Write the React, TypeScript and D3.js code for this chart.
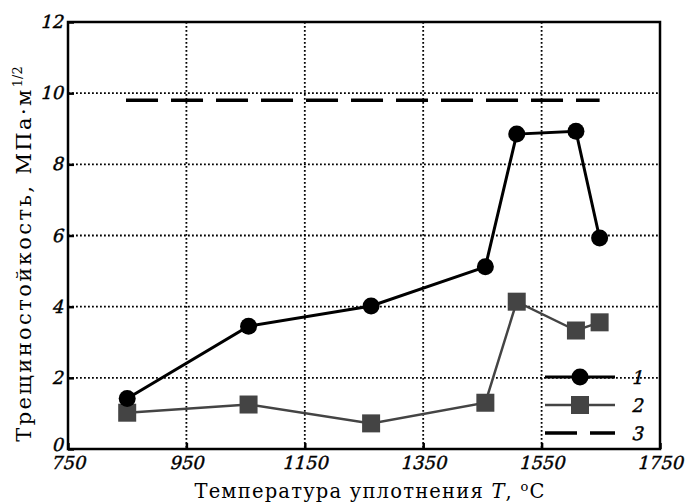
import React, { useEffect, useRef } from 'react';
import * as d3 from 'd3';

// temperature of compaction, °C
const temps = [850, 1055, 1262, 1455, 1508, 1608, 1648];
// series 1 (circles)
const toughness1 = [1.42, 3.45, 4.02, 5.12, 8.85, 8.93, 5.93];
// series 2 (squares)
const toughness2 = [1.02, 1.25, 0.72, 1.3, 4.14, 3.33, 3.56];
// series 3 (dashed reference level)
const refTemps = [848, 1648];
const refLevel = [9.8, 9.8];

const xTicks = [750, 950, 1150, 1350, 1550, 1750];
const yTicks = [0, 2, 4, 6, 8, 10, 12];
const legendLabels = ['1', '2', '3'];

const W = 689;
const H = 504;
const margin = { top: 22, right: 29, bottom: 55, left: 68 };
const tickFont = 'DejaVu Serif';
const slant = 'skewX(-14)'; // fake italic

const App: React.FC = () => {
	const ref = useRef<SVGSVGElement>(null);

	useEffect(() => {
		if (!ref.current) return;
		document.body.style.margin = '0';
		const svg = d3.select(ref.current);
		svg.selectAll('*').remove();

		const width = W - margin.left - margin.right;
		const height = H - margin.top - margin.bottom;

		const x = d3.scaleLinear().domain([750, 1750]).range([0, width]);
		const y = d3.scaleLinear().domain([0, 12]).range([height, 0]);

		const g = svg
			.append('g')
			.attr('transform', `translate(${margin.left},${margin.top})`);

		// grid
		g.selectAll('.vgrid')
			.data(xTicks.slice(1, -1))
			.enter()
			.append('line')
			.attr('x1', (d) => x(d))
			.attr('x2', (d) => x(d))
			.attr('y1', 0)
			.attr('y2', height)
			.attr('stroke', '#000')
			.attr('stroke-width', 1.8)
			.attr('stroke-dasharray', '1.8,2.2');
		g.selectAll('.hgrid')
			.data(yTicks.slice(1, -1))
			.enter()
			.append('line')
			.attr('x1', 0)
			.attr('x2', width)
			.attr('y1', (d) => y(d))
			.attr('y2', (d) => y(d))
			.attr('stroke', '#000')
			.attr('stroke-width', 1.8)
			.attr('stroke-dasharray', '1.8,2.2');

		// axes (inward ticks)
		const xAxis = d3.axisBottom(x).tickValues(xTicks).tickSize(-6).tickFormat(() => '');
		const yAxis = d3.axisLeft(y).tickValues(yTicks).tickSize(-6).tickFormat(() => '');
		const gx = g.append('g').attr('transform', `translate(0,${height})`).call(xAxis);
		const gy = g.append('g').call(yAxis);
		[gx, gy].forEach((a) => {
			a.select('.domain').remove();
			a.selectAll('line').attr('stroke', '#000').attr('stroke-width', 2.5);
		});

		// tick labels
		g.selectAll('.xlab')
			.data(xTicks)
			.enter()
			.append('g')
			.attr('transform', (d) => `translate(${x(d)},${height + 20})`)
			.append('text')
			.attr('transform', slant)
			.attr('text-anchor', 'middle')
			.attr('font-family', tickFont)
			.attr('font-size', 18)
			.attr('stroke', '#000')
			.attr('stroke-width', 0.45)
			.text((d) => d);
		g.selectAll('.ylab')
			.data(yTicks)
			.enter()
			.append('g')
			.attr('transform', (d) => `translate(-5,${y(d) + (d === 0 ? 2 : 6)})`)
			.append('text')
			.attr('transform', slant)
			.attr('text-anchor', 'end')
			.attr('font-family', tickFont)
			.attr('font-size', 18)
			.attr('stroke', '#000')
			.attr('stroke-width', 0.45)
			.text((d) => d);

		// frame
		g.append('rect')
			.attr('width', width)
			.attr('height', height)
			.attr('fill', 'none')
			.attr('stroke', '#000')
			.attr('stroke-width', 2.5);

		// series 3: dashed level
		const line = d3
			.line<[number, number]>()
			.x((d) => x(d[0]))
			.y((d) => y(d[1]));
		g.append('path')
			.attr('d', line(d3.zip(refTemps, refLevel) as [number, number][]))
			.attr('fill', 'none')
			.attr('stroke', '#000')
			.attr('stroke-width', 3.5)
			.attr('stroke-dasharray', '32,13');

		// series 2: squares
		const s2 = d3.zip(temps, toughness2) as [number, number][];
		g.append('path')
			.attr('d', line(s2))
			.attr('fill', 'none')
			.attr('stroke', '#444')
			.attr('stroke-width', 2.5);
		g.selectAll('.sq')
			.data(s2)
			.enter()
			.append('rect')
			.attr('x', (d) => x(d[0]) - 9)
			.attr('y', (d) => y(d[1]) - 9)
			.attr('width', 18)
			.attr('height', 18)
			.attr('fill', '#444');

		// series 1: circles
		const s1 = d3.zip(temps, toughness1) as [number, number][];
		g.append('path')
			.attr('d', line(s1))
			.attr('fill', 'none')
			.attr('stroke', '#000')
			.attr('stroke-width', 3);
		g.selectAll('.ci')
			.data(s1)
			.enter()
			.append('circle')
			.attr('cx', (d) => x(d[0]))
			.attr('cy', (d) => y(d[1]))
			.attr('r', 8.5)
			.attr('fill', '#000');

		// legend
		const lg = svg.append('g').attr('transform', 'translate(545,377)');
		const items = lg
			.selectAll('g')
			.data(legendLabels)
			.enter()
			.append('g')
			.attr('transform', (d, i) => `translate(0,${i * 28})`);
		items
			.append('line')
			.attr('x1', 0)
			.attr('x2', 70)
			.attr('stroke', (d, i) => (i === 1 ? '#444' : '#000'))
			.attr('stroke-width', (d, i) => (i === 0 ? 3 : i === 1 ? 2.5 : 3.5))
			.attr('stroke-dasharray', (d, i) => (i === 2 ? '32,13' : null));
		items
			.filter((d, i) => i === 0)
			.append('circle')
			.attr('cx', 35)
			.attr('r', 8.5)
			.attr('fill', '#000');
		items
			.filter((d, i) => i === 1)
			.append('rect')
			.attr('x', 26)
			.attr('y', -9)
			.attr('width', 18)
			.attr('height', 18)
			.attr('fill', '#444');
		items
			.append('g')
			.attr('transform', 'translate(86,7)')
			.append('text')
			.attr('transform', slant)
			.attr('font-family', tickFont)
			.attr('font-size', 18.5)
			.attr('stroke', '#000')
			.attr('stroke-width', 0.45)
			.text((d) => d);

		// axis titles
		const xt = svg
			.append('text')
			.attr('x', margin.left + width / 2 + 6)
			.attr('y', 498)
			.attr('text-anchor', 'middle')
			.attr('font-family', 'DejaVu Serif')
			.attr('font-size', 19.5)
			.attr('letter-spacing', 1.2);
		xt.append('tspan').text('Температура уплотнения ');
		xt.append('tspan').attr('font-style', 'italic').text('T');
		xt.append('tspan').text(', ');
		xt.append('tspan').attr('font-size', 13).attr('dy', -7).text('o');
		xt.append('tspan').attr('dy', 7).text('C');

		const yt = svg
			.append('text')
			.attr('transform', `translate(31,${254}) rotate(-90)`)
			.attr('text-anchor', 'middle')
			.attr('font-family', 'DejaVu Serif')
			.attr('font-size', 21)
			.attr('letter-spacing', 2.4);
		yt.append('tspan').text('Трещиностойкость, МПа·м');
		yt.append('tspan').attr('font-size', 13).attr('dy', -9).attr('letter-spacing', 0).text('1/2');
	}, []);

	return <svg ref={ref} width={W} height={H} style={{ display: 'block', background: '#fff' }} />;
};

export default App;
